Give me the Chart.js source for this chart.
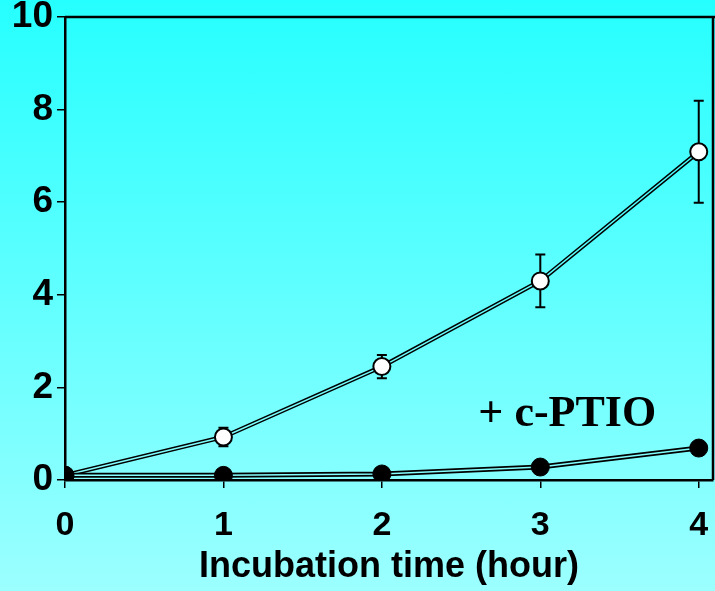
<!DOCTYPE html>
<html>
<head>
<meta charset="utf-8">
<script src="https://cdn.jsdelivr.net/npm/chart.js@4.4.1/dist/chart.umd.min.js"></script>
<style>
  html, body { margin: 0; padding: 0; }
  body {
    width: 715px; height: 591px; overflow: hidden;
    background: linear-gradient(to bottom, #26ffff 0%, #9cffff 100%);
  }
  canvas { display: block; }
</style>
</head>
<body>
<canvas id="chart" width="715" height="591"></canvas>
<script>
/* ---------- data ---------- */
const hours = [0, 1, 2, 3, 4];
const control = [0.1, 0.93, 2.45, 4.3, 7.09];
const controlErr = [0, 0.2, 0.25, 0.57, 1.1];
const withPtio = [0.1, 0.1, 0.13, 0.28, 0.69];
const yTicks = [0, 2, 4, 6, 8, 10];
const ptioLabel = '+ c-PTIO';
const xTitle = 'Incubation time (hour)';

const toPoints = arr => hours.map((h, i) => ({ x: h, y: arr[i] }));

/* inner stroke of the double lines uses the page gradient */
function bgStroke(ctx) {
  const c = ctx.chart;
  const g = c.ctx.createLinearGradient(0, 0, 0, c.height);
  g.addColorStop(0, '#26ffff');
  g.addColorStop(1, '#9cffff');
  return g;
}

/* error bars + frame + label */
const extras = {
  id: 'extras',
  beforeDatasetsDraw(chart) {
    const { ctx, scales: { x, y } } = chart;
    ctx.save();
    ctx.strokeStyle = '#000';
    ctx.lineWidth = 2;
    hours.forEach((h, i) => {
      const e = controlErr[i];
      if (!e) return;
      const px = x.getPixelForValue(h);
      const top = y.getPixelForValue(control[i] + e);
      const bot = y.getPixelForValue(control[i] - e);
      ctx.beginPath();
      ctx.moveTo(px, top); ctx.lineTo(px, bot);
      ctx.moveTo(px - 5, top); ctx.lineTo(px + 5, top);
      ctx.moveTo(px - 5, bot); ctx.lineTo(px + 5, bot);
      ctx.stroke();
    });
    ctx.restore();
  },
  afterDraw(chart) {
    const { ctx, chartArea: a, scales: { x, y } } = chart;
    ctx.save();
    ctx.strokeStyle = '#000';
    ctx.lineWidth = 2.5;
    ctx.beginPath();
    ctx.moveTo(a.left, a.top); ctx.lineTo(chart.width, a.top);
    ctx.moveTo(a.right, a.top); ctx.lineTo(a.right, a.bottom);
    ctx.stroke();
    ctx.fillStyle = '#000';
    ctx.font = 'bold 44px "Liberation Serif", "Times New Roman", serif';
    ctx.textAlign = 'center';
    ctx.textBaseline = 'alphabetic';
    ctx.fillText(ptioLabel, x.getPixelForValue(3.17), y.getPixelForValue(1.17));
    ctx.restore();
  }
};

new Chart(document.getElementById('chart'), {
  type: 'line',
  data: {
    datasets: [
      { data: toPoints(withPtio), borderColor: bgStroke, borderWidth: 1.5,
        pointRadius: 9, pointBackgroundColor: '#000', pointBorderColor: '#000', pointBorderWidth: 1 },
      { data: toPoints(withPtio), borderColor: '#000', borderWidth: 5, pointRadius: 0 },
      { data: toPoints(control), borderColor: bgStroke, borderWidth: 1.5,
        pointRadius: 8.5, pointBackgroundColor: '#fff', pointBorderColor: '#000', pointBorderWidth: 2 },
      { data: toPoints(control), borderColor: '#000', borderWidth: 4.5, pointRadius: 0 }
    ]
  },
  options: {
    responsive: false,
    animation: false,
    layout: { autoPadding: false, padding: { top: 17, right: 2, left: 0, bottom: 0 } },
    plugins: { legend: { display: false }, tooltip: { enabled: false } },
    elements: { line: { tension: 0 } },
    scales: {
      x: {
        type: 'linear', min: 0, max: 4.09,
        afterBuildTicks: s => { s.ticks = hours.map(v => ({ value: v })); },
        afterFit: s => { s.height = 111; s.paddingLeft = 0; s.paddingRight = 0; },
        border: { display: true, color: '#000', width: 2.5 },
        grid: { display: true, drawOnChartArea: false, color: '#000', lineWidth: 1.5, tickLength: 8 },
        ticks: { color: '#000', padding: 17, maxRotation: 0,
          font: { family: '"Liberation Sans", Arial, sans-serif', weight: 'bold', size: 34 } },
        title: { display: true, text: xTitle, color: '#000', padding: { top: 0, bottom: 2 },
          font: { family: '"Liberation Sans", Arial, sans-serif', weight: 'bold', size: 36 } }
      },
      y: {
        min: 0, max: 10,
        afterBuildTicks: s => { s.ticks = yTicks.map(v => ({ value: v })); },
        afterFit: s => { s.width = 65; s.paddingTop = 0; s.paddingBottom = 0; },
        border: { display: true, color: '#000', width: 2.5 },
        grid: { display: true, drawOnChartArea: false, color: '#000', lineWidth: 1.5, tickLength: 8 },
        ticks: { color: '#000', padding: 4,
          font: { family: '"Liberation Sans", Arial, sans-serif', weight: 'bold', size: 37 } }
      }
    }
  },
  plugins: [extras]
});
</script>
</body>
</html>
